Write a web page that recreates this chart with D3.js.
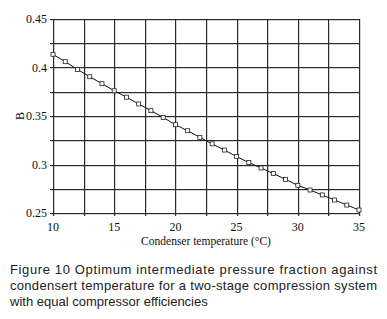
<!DOCTYPE html>
<html>
<head>
<meta charset="utf-8">
<script src="https://cdn.jsdelivr.net/npm/d3@7"></script>
<style>
  body { margin: 0; background: #fff; }
  svg { display: block; }
</style>
</head>
<body>
<script>
// Condenser temperature (°C) vs optimum fraction B
const temps = [10, 11, 12, 13, 14, 15, 16, 17, 18, 19, 20, 21, 22, 23, 24, 25, 26, 27, 28, 29, 30, 31, 32, 33, 34, 35];
const bValues = [0.4136, 0.4060, 0.3980, 0.3905, 0.3833, 0.3760, 0.3694, 0.3624, 0.3555, 0.3485, 0.3410,
                 0.3348, 0.3280, 0.3213, 0.3149, 0.3082, 0.3020, 0.2964, 0.2907, 0.2847, 0.2785,
                 0.2737, 0.2686, 0.2634, 0.2582, 0.2531];
const xTicks = [10, 15, 20, 25, 30, 35];
const yTicks = [0.25, 0.3, 0.35, 0.4, 0.45];
const xGrid = [10, 12.5, 15, 17.5, 20, 22.5, 25, 27.5, 30, 32.5, 35];
const yGrid = [0.25, 0.275, 0.3, 0.325, 0.35, 0.375, 0.4, 0.425, 0.45];
const captionLines = [
  "Figure 10 Optimum intermediate pressure fraction against",
  "condensert temperature for a two-stage compression system",
  "with equal compressor efficiencies"
];

const w = 387, h = 319;
const plotL = 53, plotR = 359, plotT = 19, plotB = 213;

const svg = d3.select("body").append("svg")
  .attr("width", w)
  .attr("height", h);

const xScale = d3.scaleLinear().domain([10, 35]).range([plotL, plotR]);
const yScale = d3.scaleLinear().domain([0.25, 0.45]).range([plotB, plotT]);

// Grid as thin filled rects (crisp in the screenshot)
const gridG = svg.append("g").attr("fill", "#2a2a2a");
gridG.selectAll(".vgrid")
  .data(xGrid)
  .join("rect")
  .attr("class", "vgrid")
  .attr("x", d => Math.round(xScale(d)))
  .attr("y", plotT)
  .attr("width", 1.2)
  .attr("height", plotB - plotT + 3);
gridG.selectAll(".hgrid")
  .data(yGrid)
  .join("rect")
  .attr("class", "hgrid")
  .attr("x", plotL - 3)
  .attr("y", d => Math.round(yScale(d)))
  .attr("width", plotR - plotL + 4)
  .attr("height", 1.2);

// Axis tick labels
const fontSerif = "'Liberation Serif', 'Times New Roman', serif";
svg.append("g").selectAll("text")
  .data(xTicks)
  .join("text")
  .attr("x", d => xScale(d))
  .attr("y", plotB + 18)
  .attr("text-anchor", "middle")
  .attr("font-family", fontSerif)
  .attr("font-size", 12)
  .attr("fill", "#111")
  .text(d => d);

svg.append("g").selectAll("text")
  .data(yTicks)
  .join("text")
  .attr("x", plotL - 6)
  .attr("y", d => yScale(d) + 4)
  .attr("text-anchor", "end")
  .attr("font-family", fontSerif)
  .attr("font-size", 12)
  .attr("fill", "#111")
  .text(d => d);

// Axis titles
svg.append("text")
  .attr("x", 206)
  .attr("y", plotB + 32)
  .attr("text-anchor", "middle")
  .attr("font-family", fontSerif)
  .attr("font-size", 11.5)
  .attr("fill", "#111")
  .text("Condenser temperature (°C)");

svg.append("text")
  .attr("transform", `translate(24, ${(plotT + plotB) / 2}) rotate(-90)`)
  .attr("text-anchor", "middle")
  .attr("font-family", fontSerif)
  .attr("font-size", 12)
  .attr("fill", "#111")
  .text("B");

// Data line and markers
const pts = temps.map((t, i) => [t, bValues[i]]);
svg.append("path")
  .datum(pts)
  .attr("fill", "none")
  .attr("stroke", "#111")
  .attr("stroke-width", 1)
  .attr("d", d3.line().x(d => xScale(d[0])).y(d => yScale(d[1])));

svg.append("g").selectAll(".marker")
  .data(pts)
  .join("rect")
  .attr("class", "marker")
  .attr("x", d => xScale(d[0]) - 2)
  .attr("y", d => yScale(d[1]) - 2)
  .attr("width", 4)
  .attr("height", 4)
  .attr("fill", "#fff")
  .attr("stroke", "#222")
  .attr("stroke-width", 0.8);

// Caption
const cap = svg.append("g")
  .attr("font-family", "'Liberation Sans', Arial, sans-serif")
  .attr("font-size", 13)
  .attr("fill", "#222");
cap.selectAll("text")
  .data(captionLines)
  .join("text")
  .attr("x", 10)
  .attr("y", (d, i) => 274 + i * 16)
  .attr("textLength", (d, i) => i < 2 ? 367 : null)
  .attr("lengthAdjust", "spacing")
  .text(d => d);
</script>
</body>
</html>
